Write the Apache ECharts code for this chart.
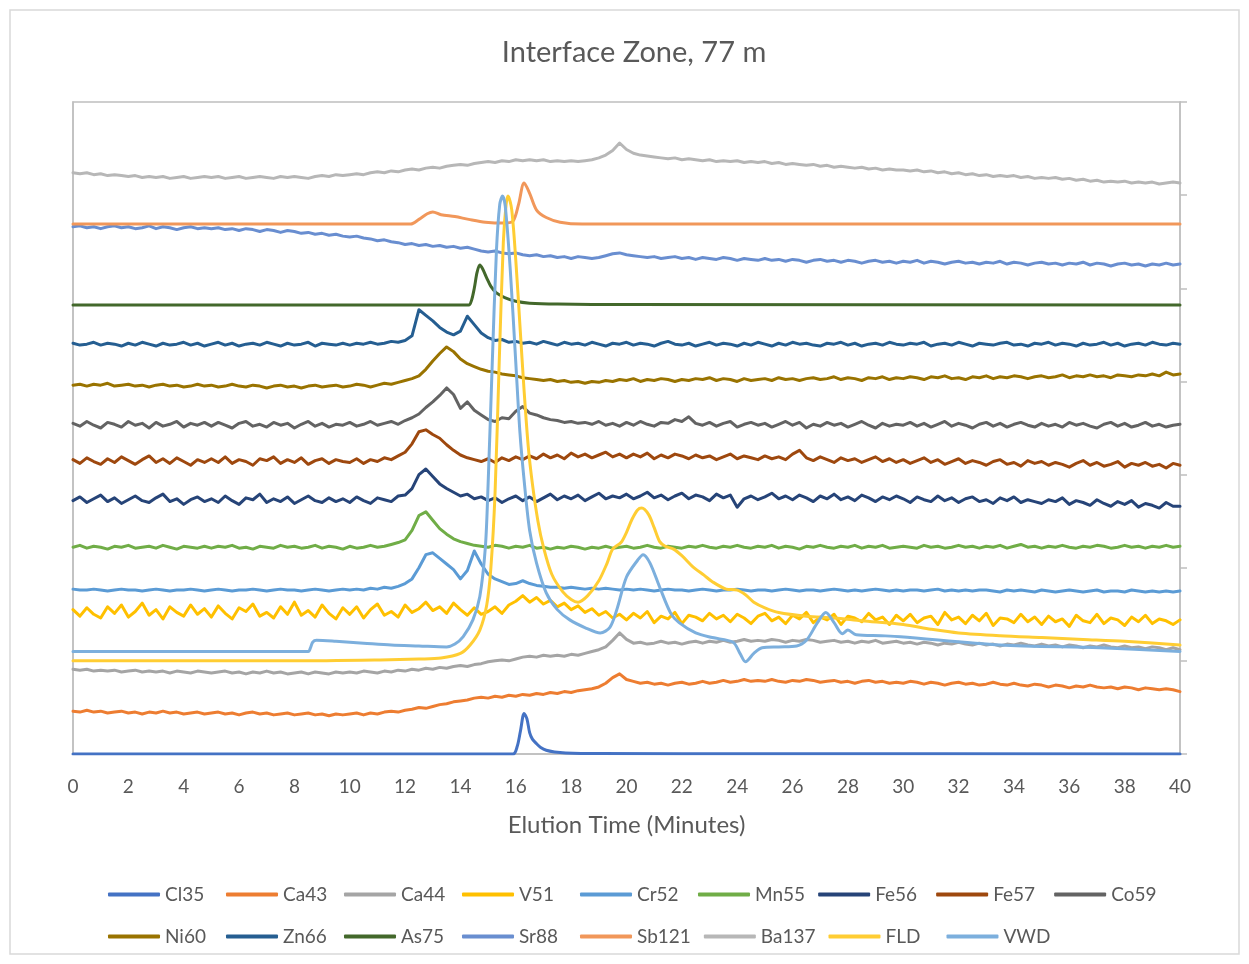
<!DOCTYPE html>
<html>
<head>
<meta charset="utf-8">
<title>Interface Zone, 77 m</title>
<script src="https://cdn.jsdelivr.net/npm/echarts@6/dist/echarts.min.js"></script>
<style>
  html, body { margin: 0; padding: 0; background: #ffffff; }
  #chart { width: 1249px; height: 964px; }
</style>
</head>
<body>
<div id="chart"></div>
<script>
// Offset chromatogram traces (stacked display units, 0-700), elution time in minutes.
const STEP = 0.25; // ICP-MS sampling interval, minutes (t = 0 ... 40, 161 points)

const seriesNames = ['Cl35', 'Ca43', 'Ca44', 'V51', 'Cr52', 'Mn55', 'Fe56', 'Fe57', 'Co59',
  'Ni60', 'Zn66', 'As75', 'Sr88', 'Sb121', 'Ba137', 'FLD', 'VWD'];
const seriesColors = ['#4472C4', '#ED7D31', '#A5A5A5', '#FFC000', '#5B9BD5', '#70AD47', '#264478',
  '#9E480E', '#636363', '#997300', '#255E91', '#43682B', '#698ED0', '#F1975A', '#B7B7B7', '#FFCD33', '#7CAFDD'];

// ---- sampled ICP-MS traces ----
const ca43 = [
  46,45,47,45,46,44,45,46,44,45,43,45,44,46,44,45,43,44,45,43,
  44,45,43,44,42,44,45,43,44,42,43,44,42,43,44,42,43,41,43,42,
  43,44,42,44,43,45,46,45,47,48,50,49,51,53,54,56,57,58,60,61,
  60,62,61,63,62,64,63,65,64,66,65,67,66,68,69,70,72,76,82,86,
  80,78,76,77,75,76,74,76,77,75,76,78,76,77,79,77,78,80,78,79,
  78,80,78,77,79,78,80,79,77,78,79,77,78,76,78,79,77,78,76,77,
  76,78,77,75,77,76,74,76,77,75,76,74,75,77,75,74,76,74,73,75,
  74,72,74,73,71,73,72,74,72,71,72,70,72,71,69,71,70,69,70,69,
  67];
const ca44 = [
  91,90,91,89,90,89,90,88,89,90,88,89,88,89,87,89,88,87,89,88,
  87,88,89,87,88,86,88,87,89,87,88,86,87,88,86,88,87,86,88,87,
  88,87,89,88,87,89,88,90,89,91,90,92,91,93,92,94,95,94,96,97,
  99,100,101,100,102,104,105,104,106,105,106,105,107,106,108,110,112,115,122,130,
  123,119,120,118,119,121,119,120,118,120,121,119,121,120,122,120,121,123,121,122,
  121,123,122,120,122,121,123,122,120,121,122,120,121,119,121,120,122,119,120,121,
  119,120,118,120,119,117,119,118,120,118,117,119,117,118,116,118,117,119,117,116,
  118,116,117,115,117,116,114,116,115,117,115,114,116,114,115,113,115,114,112,114,
  112];
const v51 = [
  155,148,157,150,146,158,151,160,147,153,162,149,155,145,158,152,148,160,150,156,
  147,159,151,145,157,153,161,148,152,146,158,150,163,149,154,147,160,151,145,157,
  150,158,146,155,161,149,153,147,160,152,156,163,154,158,151,162,155,149,157,150,
  153,158,151,160,164,170,163,168,161,165,158,162,155,159,152,156,149,153,146,150,
  144,151,146,153,141,148,145,152,140,149,147,143,151,145,149,142,150,146,140,148,
  151,143,147,140,149,145,152,141,147,144,150,139,148,146,142,151,144,147,139,149,
  143,150,141,146,148,139,152,144,147,140,149,143,151,138,146,145,141,150,142,147,
  139,148,142,145,137,149,143,141,150,140,146,144,138,147,142,149,140,145,143,139,
  144];
const cr52 = [
  177,176,176,177,176,175,176,177,176,176,175,176,177,176,175,176,176,177,176,175,
  176,177,176,175,176,176,177,176,175,176,177,176,176,175,176,177,176,175,176,177,
  176,177,176,178,177,179,178,180,183,188,200,214,216,210,204,198,188,197,218,204,
  193,188,185,182,183,186,183,181,180,179,179,178,179,178,177,178,177,178,177,176,
  177,176,177,176,175,176,177,176,176,175,176,177,176,175,176,176,177,176,175,176,
  176,175,176,177,176,175,176,176,175,176,177,176,175,176,175,176,177,176,175,176,
  175,176,176,175,176,177,175,176,175,176,175,176,176,175,174,176,175,176,175,174,
  176,175,174,175,176,175,174,175,176,174,175,175,174,176,175,174,175,174,175,174,
  175];
const mn55 = [
  222,224,221,223,222,220,223,222,224,221,222,223,221,224,222,220,223,222,221,223,
  221,223,222,224,221,222,220,223,222,221,224,222,223,221,222,224,221,223,222,220,
  223,221,222,224,222,223,225,227,230,240,256,260,251,242,236,231,228,226,224,223,
  222,224,223,221,223,222,224,221,222,220,222,221,223,222,220,222,221,223,221,222,
  223,221,222,224,222,221,223,222,221,223,222,224,222,221,223,222,224,222,221,223,
  222,224,221,223,222,220,223,222,224,222,221,223,222,224,221,223,222,224,221,222,
  223,222,221,224,222,223,221,222,224,222,223,221,223,222,224,221,223,225,222,223,
  221,223,222,224,222,221,223,222,224,223,221,222,224,222,223,221,223,222,224,222,
  223];
const fe56 = [
  272,276,270,274,278,271,275,269,273,277,272,270,275,279,271,274,268,273,276,271,
  274,270,277,272,268,275,273,279,270,274,271,276,269,273,277,272,270,275,271,274,
  270,276,272,269,275,273,271,277,278,285,300,306,298,290,285,281,277,279,274,276,
  272,275,270,274,277,272,276,271,275,279,273,277,274,278,272,276,280,274,277,275,
  279,274,277,281,275,278,273,277,280,274,278,276,272,279,275,278,265,274,277,273,
  276,280,274,277,273,278,275,271,277,274,279,273,276,272,278,275,271,276,273,277,
  274,270,276,273,271,277,272,275,270,274,276,271,273,269,275,272,276,270,273,271,
  269,273,271,275,268,272,270,267,273,269,266,271,268,272,265,269,267,264,270,266,
  266];
const fe57 = [
  316,312,318,314,311,317,313,319,315,311,316,320,313,317,312,318,314,310,316,313,
  317,313,319,312,316,314,310,317,315,319,312,316,313,318,311,315,317,312,316,314,
  313,317,312,316,314,318,316,320,324,333,346,348,343,339,332,326,321,318,316,314,
  317,313,318,315,319,316,320,317,322,318,321,317,323,319,322,318,321,324,319,322,
  318,322,319,323,317,321,318,322,320,317,321,318,320,316,319,322,317,320,318,316,
  320,317,319,316,322,326,318,315,319,316,313,318,315,317,313,316,319,314,317,313,
  316,312,315,318,313,316,311,314,317,312,315,313,310,314,316,311,313,309,315,312,
  314,310,313,311,308,312,315,310,313,309,311,314,308,312,310,313,309,311,307,312,
  310];
const co59 = [
  355,352,357,353,350,356,354,351,357,353,355,350,356,352,354,357,351,355,353,356,
  352,356,353,350,355,357,352,354,351,356,353,355,350,354,357,352,355,351,354,353,
  356,352,354,357,353,355,357,354,358,361,365,372,378,385,393,386,371,378,369,364,
  359,357,361,360,368,373,366,364,361,359,358,356,357,355,356,354,357,353,355,352,
  356,353,357,354,352,356,355,359,357,362,355,353,356,352,355,357,351,354,356,353,
  355,351,354,357,353,356,350,354,352,356,353,355,351,354,357,353,350,355,352,354,
  353,356,352,355,351,354,357,352,355,353,350,354,356,352,355,351,354,356,353,351,
  355,352,354,351,356,353,355,352,350,354,356,352,355,351,353,356,352,354,351,353,
  354];
const ni60 = [
  396,397,395,397,396,398,395,396,397,395,396,394,396,397,395,396,394,395,397,395,
  396,394,395,397,395,394,396,395,393,395,396,394,395,393,395,396,394,395,396,394,
  395,397,396,394,396,398,397,399,401,403,406,413,422,430,437,432,424,419,416,413,
  411,410,408,407,406,404,403,402,401,402,400,401,399,400,398,400,399,401,400,402,
  401,403,400,402,401,403,402,400,402,401,403,402,404,401,403,402,400,403,401,402,
  403,401,404,402,403,401,403,404,402,403,405,402,404,403,401,404,403,405,402,404,
  403,405,404,402,405,404,406,403,404,402,405,404,406,403,405,404,406,405,403,405,
  406,404,405,407,404,406,405,407,405,406,404,407,406,405,407,406,408,406,410,407,
  408];
const zn66 = [
  441,439,440,442,439,441,440,438,441,439,442,440,438,441,439,440,442,439,441,438,
  440,442,439,441,438,440,441,439,442,440,438,441,439,440,442,438,441,440,439,441,
  439,441,440,442,440,441,443,442,444,449,477,471,465,458,453,450,454,470,461,452,
  447,444,445,442,443,441,442,440,443,441,439,442,440,441,439,442,440,438,441,440,
  442,439,441,440,438,441,443,440,439,441,438,440,442,439,441,440,438,441,439,442,
  440,438,441,439,442,440,441,439,438,441,440,442,439,441,438,440,441,439,442,440,
  439,441,440,442,438,440,441,439,442,440,438,441,440,439,441,442,439,440,438,441,
  440,442,439,441,440,438,441,439,440,442,439,441,438,440,441,439,442,440,439,441,
  440];
const sr88 = [
  566,567,565,566,564,566,567,565,566,564,565,567,564,566,565,563,565,566,564,565,
  564,565,563,564,562,564,563,561,563,562,560,562,561,559,560,558,559,557,558,556,
  555,556,554,553,551,552,550,549,547,548,546,547,545,546,544,545,543,544,542,540,
  539,540,538,537,538,536,535,536,534,535,533,534,532,534,533,532,533,535,537,538,
  536,535,534,533,534,532,533,534,532,533,531,533,532,531,533,532,530,532,531,530,
  532,530,531,529,531,530,528,530,531,529,530,528,530,529,527,529,530,528,529,527,
  529,528,530,527,529,528,526,528,529,527,528,526,528,527,529,526,528,527,525,527,
  528,526,527,525,527,526,528,525,527,526,524,526,527,525,526,524,526,525,527,525,
  526];
const ba137 = [
  624,623,624,622,623,621,622,621,620,621,619,620,619,620,618,619,620,618,619,620,
  619,620,618,619,620,618,619,620,619,618,620,619,620,619,618,620,621,620,622,621,
  622,623,622,624,625,624,626,625,627,628,627,629,630,629,631,632,633,632,634,635,
  636,635,637,636,638,637,638,637,638,636,637,636,637,636,637,638,640,643,648,656,
  649,645,643,642,641,640,639,640,638,639,638,637,638,636,637,636,637,635,636,635,
  636,634,635,633,634,633,632,633,631,632,630,631,630,629,630,628,629,627,628,627,
  627,626,627,625,626,624,625,623,624,622,623,621,622,620,621,620,621,619,620,618,
  619,618,619,617,618,616,617,615,616,614,615,614,615,613,614,613,614,612,613,614,
  613];

// ---- smooth traces as [minutes, value] ----
const cl35 = [[0,0],[15.9,0],[16.05,8],[16.17,25],[16.3,43.5],[16.4,38],[16.5,23],[16.6,16],
  [16.75,11],[16.9,7],[17.1,4],[17.4,2.2],[17.8,1.2],[19,0.6],[25,0.3],[40,0]];
const as75 = [[0,482],[14.3,482],[14.4,487],[14.5,500],[14.6,517],[14.7,525],[14.8,521],[14.95,511],
  [15.1,502],[15.3,495],[15.6,490],[16,486],[16.5,484],[17.5,483],[20,482.5],[40,482]];
const sb121 = [[0,569],[12.2,569],[12.5,574],[12.8,580],[13.0,582],[13.3,579],[13.8,577],[14.3,574],
  [14.9,571],[15.6,570],[15.9,572],[16.1,590],[16.3,613],[16.5,602],[16.75,584],[17.1,576],
  [17.6,571],[18.4,569],[40,569]];
const fld = [[0,100],[8,100],[11.1,101],[12.5,102],[13.3,103],[14.0,108],[14.35,117],[14.7,133],
  [14.95,160],[15.1,200],[15.25,280],[15.4,420],[15.55,550],[15.65,590],[15.72,599],[15.85,585],
  [16.0,530],[16.15,460],[16.3,390],[16.45,330],[16.6,290],[16.8,250],[17.0,222],[17.3,193],
  [17.7,174],[18.0,166],[18.25,163],[18.6,170],[19.0,186],[19.3,205],[19.5,220],[19.8,227],
  [20.0,238],[20.2,252],[20.4,262],[20.55,264],[20.8,257],[21.0,243],[21.2,228],[21.4,223],
  [21.7,220],[22.0,213],[22.4,201],[22.8,192],[23.1,185],[23.6,177],[24.0,176],[24.3,171],
  [24.6,163],[25.0,157],[25.5,152],[26.5,148],[27.5,146],[28.5,143],[30,139],[31,134],
  [32,130],[33.5,127],[35,125],[36.5,123],[38,121],[40,117]];
const vwd = [[0,110],[8.5,110],[8.58,114],[8.66,120],[8.8,122],[9.5,121],[10.5,119],[11.5,117],
  [12.5,116],[13.5,115],[13.8,118],[14.1,126],[14.45,144],[14.7,169],[14.9,222],[15.0,290],
  [15.15,420],[15.3,540],[15.42,590],[15.52,599],[15.62,588],[15.8,520],[16.0,420],[16.15,345],
  [16.3,294],[16.5,240],[16.75,205],[17.1,173],[17.5,155],[17.95,144],[18.55,135],[19.05,130],
  [19.4,136],[19.65,155],[20.0,190],[20.4,208],[20.6,214],[20.85,205],[21.2,179],[21.6,151],
  [21.9,141],[22.5,130],[23.1,125],[23.85,120],[24.1,108],[24.3,99],[24.6,108],[24.9,114],
  [25.5,115],[26.15,116],[26.5,122],[26.9,141],[27.2,152],[27.5,141],[27.8,129],[28.0,133],
  [28.3,128],[29.2,127],[29.9,126],[33.5,117],[37.1,114],[40,110]];

// pair each sampled value with its elution time
const sampled = vals => vals.map((v, i) => [i * STEP, v]);

const traceData = [cl35, sampled(ca43), sampled(ca44), sampled(v51), sampled(cr52), sampled(mn55),
  sampled(fe56), sampled(fe57), sampled(co59), sampled(ni60), sampled(zn66), as75, sampled(sr88),
  sb121, sampled(ba137), fld, vwd];
const smoothTraces = new Set(['Cl35', 'As75', 'Sb121', 'FLD', 'VWD']);

const TEXT = '#595959';
const AXIS = '#BFBFBF';
const FONT = 'Lato, "Noto Sans", sans-serif';

const chart = echarts.init(document.getElementById('chart'), null, { renderer: 'canvas' });

chart.setOption({
  animation: false,
  backgroundColor: '#ffffff',
  textStyle: { fontFamily: FONT },
  title: {
    text: 'Interface Zone, 77 m',
    left: 629, top: 33, textAlign: 'center',
    textStyle: { fontFamily: FONT, fontSize: 29, fontWeight: 'normal', color: TEXT }
  },
  graphic: [{
    type: 'rect', silent: true, z: -10,
    shape: { x: 10, y: 10, width: 1229, height: 944 },
    style: { fill: 'none', stroke: '#D9D9D9', lineWidth: 1.5 }
  }],
  grid: {
    left: 73, right: 69, top: 102, bottom: 210,
    show: true, borderColor: AXIS, borderWidth: 1.5, backgroundColor: 'transparent'
  },
  xAxis: {
    type: 'value', min: 0, max: 40, interval: 2,
    name: 'Elution Time (Minutes)', nameLocation: 'middle', nameGap: 59,
    nameTextStyle: { fontFamily: FONT, fontSize: 24, color: TEXT },
    axisLine: { show: true, lineStyle: { color: AXIS, width: 1.5 } },
    axisTick: { show: false },
    splitLine: { show: false },
    axisLabel: { fontFamily: FONT, fontSize: 19, color: TEXT, margin: 23 }
  },
  yAxis: [{
    type: 'value', min: 0, max: 700, interval: 100, position: 'left',
    axisLine: { show: true, lineStyle: { color: AXIS, width: 1.5 } },
    axisTick: { show: false }, axisLabel: { show: false }, splitLine: { show: false }
  }, {
    type: 'value', min: 0, max: 700, interval: 100, position: 'right',
    axisLine: { show: true, lineStyle: { color: AXIS, width: 1.5 } },
    axisTick: { show: true, inside: false, length: 7, lineStyle: { color: AXIS, width: 1.5 } },
    axisLabel: { show: false }, splitLine: { show: false }
  }],
  legend: {
    data: seriesNames,
    left: 103, top: 875, width: 1080,
    orient: 'horizontal',
    icon: 'roundRect', itemWidth: 52, itemHeight: 4, itemGap: 13,
    textStyle: { fontFamily: FONT, fontSize: 19, color: TEXT, width: 48, lineHeight: 29 }
  },
  series: seriesNames.map((name, k) => ({
    name,
    type: 'line',
    yAxisIndex: 0,
    data: traceData[k],
    showSymbol: false,
    symbol: 'none',
    smooth: smoothTraces.has(name) ? 0.3 : false,
    color: seriesColors[k],
    lineStyle: { width: 3, color: seriesColors[k], join: 'round', cap: 'round' },
    emphasis: { disabled: true }
  }))
});
</script>
</body>
</html>
